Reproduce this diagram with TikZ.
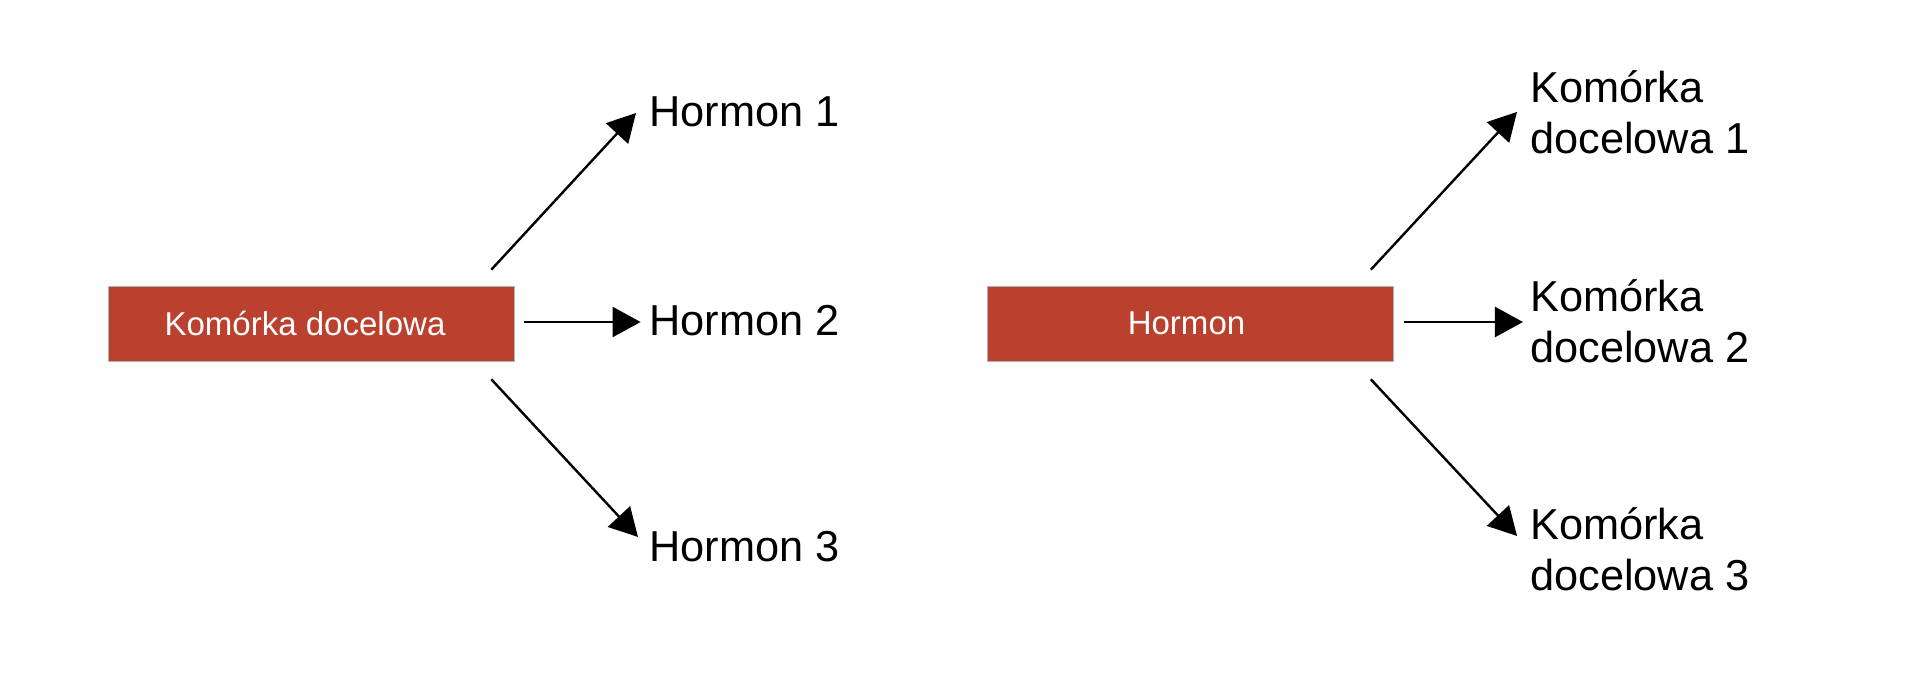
\documentclass[tikz,border=0pt]{standalone}
\usepackage{fontspec}
\setmainfont{Liberation Sans}
\usetikzlibrary{arrows.meta}
\definecolor{ladrillo}{RGB}{186,65,46}
\begin{document}
\begin{tikzpicture}[x=0.25mm,y=-0.25mm,
    caja/.style={fill=ladrillo,draw=gray!60,line width=0.15mm,minimum width=101.5mm,minimum height=18.75mm,
      text=white,font=\fontsize{23.5}{28}\selectfont},
    etiq/.style={inner sep=0pt,font=\fontsize{30.8}{36.3}\selectfont},
    flecha/.style={line width=0.6mm,-{Triangle[length=7mm,width=7.5mm]}}]
            \useasboundingbox (0,0) rectangle (1920,693);
            \node[caja] (nodo1) at (311,323.5) {Komórka docelowa\hspace*{3mm}};
            \node[caja] (nodo2) at (1190.5,323.5) {Hormon\hspace*{2mm}};
            \node[etiq,anchor=west] (h1) at (649,112) {Hormon 1};
            \node[etiq,anchor=west] (h2) at (649,320.5) {Hormon 2};
            \node[etiq,anchor=west] (h3) at (649,547) {Hormon 3};
            \node[etiq,anchor=north west,align=left] (k1) at (1530,70) {Komórka\\docelowa 1};
            \node[etiq,anchor=north west,align=left] (k2) at (1530,279) {Komórka\\docelowa 2};
            \node[etiq,anchor=north west,align=left] (k3) at (1530,507) {Komórka\\docelowa 3};
            \draw[flecha] ([shift={(-23,-16)}]nodo1.north east) -- ([shift={(-13,1)}]h1.west);
            \draw[flecha] ([shift={(10,-1.5)}]nodo1.east) coordinate (s1) -- ([xshift=-6]h2.west |- s1);
            \draw[flecha] ([shift={(-23,18)}]nodo1.south east) -- ([shift={(-11,-10)}]h3.west);
            \draw[flecha] ([shift={(-23,-16)}]nodo2.north east) -- ([shift={(-13,0)}]k1.west);
            \draw[flecha] ([shift={(10,-1.5)}]nodo2.east) coordinate (s2) -- ([xshift=-5]k2.west |- s2);
            \draw[flecha] ([shift={(-23,18)}]nodo2.south east) -- ([shift={(-13,-13)}]k3.west);
        \end{tikzpicture}
\end{document}
